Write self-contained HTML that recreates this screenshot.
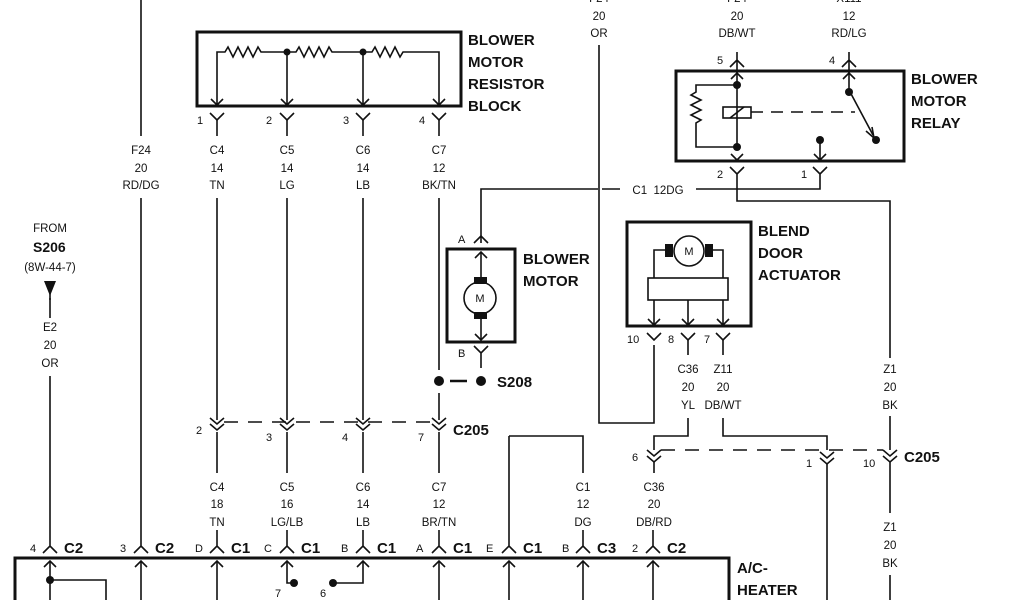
<!DOCTYPE html>
<html><head><meta charset="utf-8"><style>
html,body{margin:0;padding:0;background:#fff;}
svg{display:block;}
text{font-family:"Liberation Sans",sans-serif;fill:#111;}
.s{font-size:11.5px;text-anchor:middle;}
.p{font-size:11px;}
.b{font-size:15px;font-weight:bold;}
</style></head><body>
<svg width="1024" height="600" viewBox="0 0 1024 600" xmlns="http://www.w3.org/2000/svg">
<g stroke="#111" stroke-width="1.6" fill="none">
<line x1="50" y1="298" x2="50" y2="318"/><line x1="50" y1="376" x2="50" y2="540"/>
<line x1="141" y1="0" x2="141" y2="136"/><line x1="141" y1="198" x2="141" y2="540"/>
<line x1="217" y1="120" x2="217" y2="136"/><line x1="217" y1="198" x2="217" y2="420"/>
<line x1="287" y1="120" x2="287" y2="136"/><line x1="287" y1="198" x2="287" y2="420"/>
<line x1="363" y1="120" x2="363" y2="136"/><line x1="363" y1="198" x2="363" y2="420"/>
<line x1="439" y1="120" x2="439" y2="136"/><line x1="439" y1="198" x2="439" y2="370"/><line x1="439" y1="393" x2="439" y2="420"/>
<line x1="217" y1="432" x2="217" y2="473"/><line x1="217" y1="530" x2="217" y2="540"/>
<line x1="287" y1="432" x2="287" y2="473"/><line x1="287" y1="530" x2="287" y2="540"/>
<line x1="363" y1="432" x2="363" y2="473"/><line x1="363" y1="530" x2="363" y2="540"/>
<line x1="439" y1="432" x2="439" y2="473"/><line x1="439" y1="530" x2="439" y2="540"/>
<path d="M217,105 V52 H225 l3,-5 l5,10 l5,-10 l5,10 l5,-10 l5,10 l5,-10 l3,5 H296 l3,-5 l5,10 l5,-10 l5,10 l5,-10 l5,10 l5,-10 l3,5 H372 l3,-5 l5,10 l5,-10 l5,10 l5,-10 l5,10 l3,-5 H439 V105"/>
<line x1="287" y1="52" x2="287" y2="105"/><line x1="363" y1="52" x2="363" y2="105"/>
<path d="M211,99 L217,105 L223,99 M281,99 L287,105 L293,99 M357,99 L363,105 L369,99 M433,99 L439,105 L445,99"/>
<path d="M210,113 L217,120 L224,113 M280,113 L287,120 L294,113 M356,113 L363,120 L370,113 M432,113 L439,120 L446,113"/>
<path d="M210,418 L217,424 L224,418 M210,424 L217,430 L224,424"/>
<path d="M280,418 L287,424 L294,418 M280,424 L287,430 L294,424"/>
<path d="M356,418 L363,424 L370,418 M356,424 L363,430 L370,424"/>
<path d="M432,418 L439,424 L446,418 M432,424 L439,430 L446,424"/>
<line x1="224" y1="422" x2="432" y2="422" stroke-dasharray="14,10"/>
<g>
<path d="M43,553 L50,546 L57,553 M50,546 V540"/>
<path d="M134,553 L141,546 L148,553 M141,546 V540"/>
<path d="M210,553 L217,546 L224,553 M217,546 V540"/>
<path d="M280,553 L287,546 L294,553 M287,546 V540"/>
<path d="M356,553 L363,546 L370,553 M363,546 V540"/>
<path d="M432,553 L439,546 L446,553 M439,546 V540"/>
<path d="M502,553 L509,546 L516,553 M509,546 V436"/>
<path d="M576,553 L583,546 L590,553 M583,546 V530"/>
<path d="M646,553 L653,546 L660,553 M653,546 V530"/>
</g>
<path d="M44,567 L50,561 L56,567 M135,567 L141,561 L147,567 M211,567 L217,561 L223,567 M281,567 L287,561 L293,567 M357,567 L363,561 L369,567 M433,567 L439,561 L445,567 M503,567 L509,561 L515,567 M577,567 L583,561 L589,567 M647,567 L653,561 L659,567"/>
<g>
<line x1="50" y1="561" x2="50" y2="600"/><path d="M50,580 H106 V600"/>
<line x1="141" y1="561" x2="141" y2="600"/><line x1="217" y1="561" x2="217" y2="600"/>
<path d="M287,561 V583 H294"/><path d="M363,561 V583 H333"/>
<line x1="439" y1="561" x2="439" y2="600"/><line x1="509" y1="561" x2="509" y2="600"/>
<line x1="583" y1="561" x2="583" y2="600"/><line x1="653" y1="561" x2="653" y2="600"/>
</g>
<path d="M481,243 V189 H598 M602,189 H620 M696,189 H820 V180"/>
<path d="M474,243 L481,236 L488,243"/>
<path d="M475,258 L481,252 L487,258"/>
<line x1="481" y1="252" x2="481" y2="282"/><line x1="481" y1="314" x2="481" y2="340"/>
<circle cx="480" cy="298" r="16"/>
<path d="M475,334 L481,340 L487,334"/>
<path d="M474,346 L481,353 L488,346 M481,353 V368"/>
<line x1="450" y1="381" x2="467" y2="381" stroke-width="2.5"/>
<path d="M599,45 V423 H654 V345"/>
<path d="M737,60 V148 M849,60 V90"/>
<path d="M730,67 L737,60 L744,67 M737,60 V52 M842,67 L849,60 L856,67 M849,60 V52"/>
<path d="M731,79 L737,73 L743,79 M843,79 L849,73 L855,79"/>
<path d="M737,85 H696 V92 l-5,3 l10,5 l-10,5 l10,5 l-10,5 l10,5 l-5,3 V147 H737"/>
<rect x="723" y="107" width="28" height="11"/>
<line x1="730" y1="118" x2="744" y2="107"/>
<line x1="751" y1="112" x2="855" y2="112" stroke-dasharray="12,8"/>
<path d="M849,90 L873,135"/>
<path d="M866,131 L874,138 L872,127"/>
<line x1="820" y1="140" x2="820" y2="160"/>
<path d="M731,154 L737,160 L743,154 M814,154 L820,160 L826,154"/>
<path d="M730,167 L737,174 L744,167 M737,174 V201 H890 V358 M813,167 L820,174 L827,167 M820,174 V180"/>
<path d="M654,278 V250 H673 M705,250 H723 V278"/>
<circle cx="689" cy="251" r="15"/>
<rect x="648" y="278" width="80" height="22"/>
<path d="M654,300 V325 M688,300 V325 M723,300 V325"/>
<path d="M648,319 L654,325 L660,319 M682,319 L688,325 L694,319 M717,319 L723,325 L729,319"/>
<path d="M647,333 L654,340 L661,333 M681,333 L688,340 L695,333 M716,333 L723,340 L730,333"/>
<path d="M688,340 V355 M723,340 V355"/>
<path d="M688,418 V436 H654 V450 M723,418 V436 H827 V450"/>
<path d="M647,450 L654,456 L661,450 M647,456 L654,462 L661,456"/>
<path d="M820,452 L827,458 L834,452 M820,458 L827,464 L834,458"/>
<path d="M883,450 L890,456 L897,450 M883,456 L890,462 L897,456"/>
<line x1="661" y1="450" x2="883" y2="450" stroke-dasharray="14,10"/>
<path d="M654,462 V473 M827,464 V600 M890,462 V513 M890,575 V600"/>
<path d="M509,436 H583 V473"/>
<line x1="890" y1="416" x2="890" y2="450"/>
</g>
<g stroke="#111" stroke-width="3" fill="none">
<rect x="197" y="32" width="264" height="74"/>
<rect x="447" y="249" width="68" height="93"/>
<rect x="676" y="71" width="228" height="90"/>
<rect x="627" y="222" width="124" height="104"/>
<path d="M15,600 V558 H729 V600"/>
</g>
<g fill="#111">
<circle cx="287" cy="52" r="3.5"/><circle cx="363" cy="52" r="3.5"/>
<rect x="474" y="277" width="13" height="7"/><rect x="474" y="312" width="13" height="7"/>
<circle cx="439" cy="381" r="5"/><circle cx="481" cy="381" r="5"/>
<circle cx="737" cy="85" r="4"/><circle cx="737" cy="147" r="4"/>
<circle cx="849" cy="92" r="4"/><circle cx="876" cy="140" r="4"/><circle cx="820" cy="140" r="4"/>
<rect x="665" y="244" width="8" height="13"/><rect x="705" y="244" width="8" height="13"/>
<circle cx="50" cy="580" r="4"/><circle cx="294" cy="583" r="4"/><circle cx="333" cy="583" r="4"/>
<path d="M44,281 H56 L50,296 Z"/>
</g>
<line x1="50" y1="290" x2="50" y2="300" stroke="#111" stroke-width="1.6"/>
<g class="s" style="font-size:11px">
<text x="480" y="302">M</text><text x="689" y="255">M</text>
</g>
<g class="b">
<text x="468" y="45">BLOWER</text><text x="468" y="67">MOTOR</text><text x="468" y="89">RESISTOR</text><text x="468" y="111">BLOCK</text>
<text x="911" y="84">BLOWER</text><text x="911" y="106">MOTOR</text><text x="911" y="128">RELAY</text>
<text x="758" y="236">BLEND</text><text x="758" y="258">DOOR</text><text x="758" y="280">ACTUATOR</text>
<text x="523" y="264">BLOWER</text><text x="523" y="286">MOTOR</text>
<text x="497" y="387">S208</text>
<text x="453" y="435">C205</text><text x="904" y="462">C205</text>
<text x="737" y="573">A/C-</text><text x="737" y="595">HEATER</text>
<text x="64" y="553">C2</text><text x="155" y="553">C2</text><text x="231" y="553">C1</text><text x="301" y="553">C1</text><text x="377" y="553">C1</text><text x="453" y="553">C1</text><text x="523" y="553">C1</text><text x="597" y="553">C3</text><text x="667" y="553">C2</text>
<text x="33" y="252" style="font-size:14px">S206</text>
</g>
<g class="s">
<text x="141" y="154">F24</text><text x="141" y="172">20</text><text x="141" y="189">RD/DG</text>
<text x="217" y="154">C4</text><text x="217" y="172">14</text><text x="217" y="189">TN</text>
<text x="287" y="154">C5</text><text x="287" y="172">14</text><text x="287" y="189">LG</text>
<text x="363" y="154">C6</text><text x="363" y="172">14</text><text x="363" y="189">LB</text>
<text x="439" y="154">C7</text><text x="439" y="172">12</text><text x="439" y="189">BK/TN</text>
<text x="50" y="232">FROM</text><text x="50" y="271">(8W-44-7)</text>
<text x="50" y="331">E2</text><text x="50" y="349">20</text><text x="50" y="367">OR</text>
<text x="217" y="491">C4</text><text x="217" y="508">18</text><text x="217" y="526">TN</text>
<text x="287" y="491">C5</text><text x="287" y="508">16</text><text x="287" y="526">LG/LB</text>
<text x="363" y="491">C6</text><text x="363" y="508">14</text><text x="363" y="526">LB</text>
<text x="439" y="491">C7</text><text x="439" y="508">12</text><text x="439" y="526">BR/TN</text>
<text x="583" y="491">C1</text><text x="583" y="508">12</text><text x="583" y="526">DG</text>
<text x="654" y="491">C36</text><text x="654" y="508">20</text><text x="654" y="526">DB/RD</text>
<text x="599" y="2">F24</text><text x="599" y="20">20</text><text x="599" y="37">OR</text>
<text x="737" y="2">F24</text><text x="737" y="20">20</text><text x="737" y="37">DB/WT</text>
<text x="849" y="2">X111</text><text x="849" y="20">12</text><text x="849" y="37">RD/LG</text>
<text x="688" y="373">C36</text><text x="688" y="391">20</text><text x="688" y="409">YL</text>
<text x="723" y="373">Z11</text><text x="723" y="391">20</text><text x="723" y="409">DB/WT</text>
<text x="890" y="373">Z1</text><text x="890" y="391">20</text><text x="890" y="409">BK</text>
<text x="890" y="531">Z1</text><text x="890" y="549">20</text><text x="890" y="567">BK</text>
<text x="658" y="194">C1&#160;&#160;12DG</text>
</g>
<g class="p">
<text x="197" y="124">1</text><text x="266" y="124">2</text><text x="343" y="124">3</text><text x="419" y="124">4</text>
<text x="196" y="434">2</text><text x="266" y="441">3</text><text x="342" y="441">4</text><text x="418" y="441">7</text>
<text x="30" y="552">4</text><text x="120" y="552">3</text><text x="195" y="552">D</text><text x="264" y="552">C</text><text x="341" y="552">B</text><text x="416" y="552">A</text><text x="486" y="552">E</text><text x="562" y="552">B</text><text x="632" y="552">2</text>
<text x="275" y="597">7</text><text x="320" y="597">6</text>
<text x="458" y="243">A</text><text x="458" y="357">B</text>
<text x="717" y="64">5</text><text x="829" y="64">4</text>
<text x="717" y="178">2</text><text x="801" y="178">1</text>
<text x="627" y="343">10</text><text x="668" y="343">8</text><text x="704" y="343">7</text>
<text x="632" y="461">6</text><text x="806" y="467">1</text><text x="863" y="467">10</text>
</g>
</svg>
</body></html>
